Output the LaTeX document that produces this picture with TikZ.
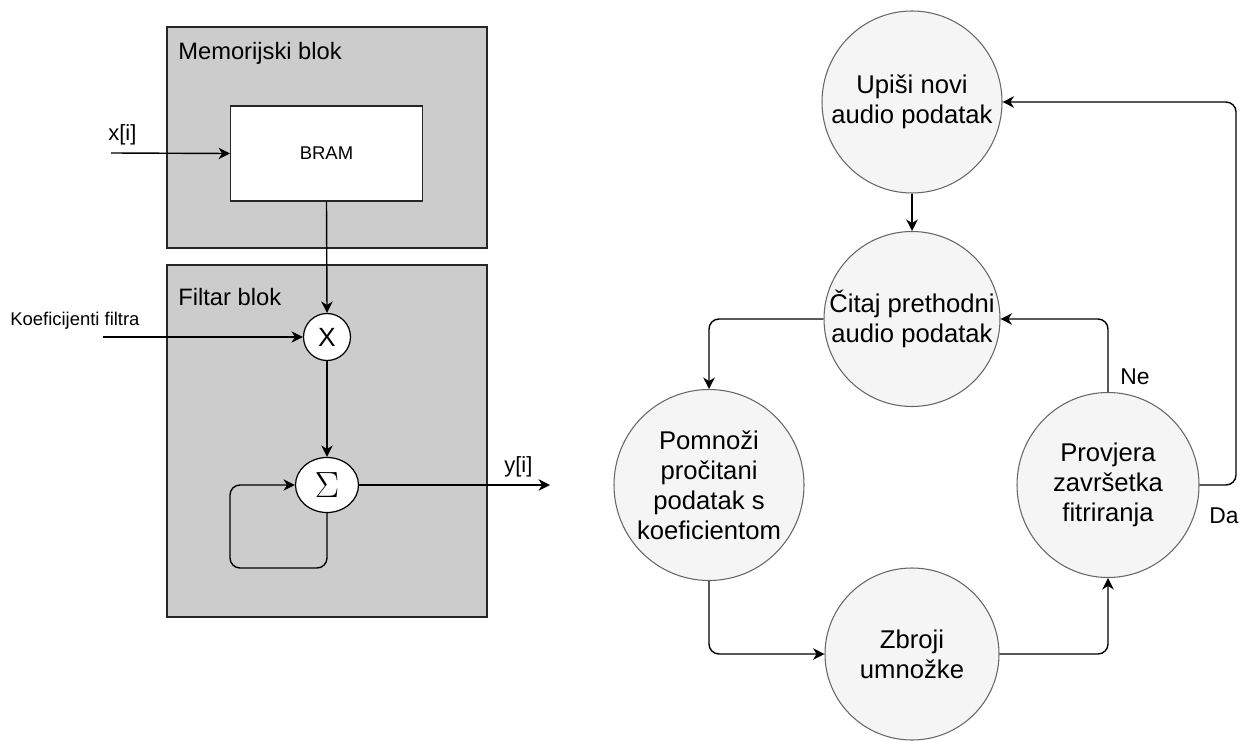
\documentclass[tikz,border=0pt]{standalone}
\usepackage{fontspec}
\setmainfont{Liberation Sans}
\usetikzlibrary{shapes.geometric,arrows.meta}
\definecolor{blokgray}{HTML}{CCCCCC}
\definecolor{stanjefill}{HTML}{F5F5F5}
\definecolor{stanjedraw}{HTML}{666666}
\tikzstyle{blok} = [draw=black!85,fill=blokgray,line width=0.6pt,rectangle,inner sep=0]
\tikzstyle{spremnik} = [draw=black!85,fill=white,line width=0.6pt,rectangle,inner sep=0,font=\fontsize{10.5}{12}\selectfont]
\tikzstyle{op} = [draw,fill=white,line width=0.7pt,ellipse,inner sep=0]
\tikzstyle{stanje} = [draw=stanjedraw,fill=stanjefill,line width=0.6pt,ellipse,inner sep=0]
\tikzstyle{tekst} = [inner sep=0,align=center,font=\fontsize{14.6}{17}\selectfont]
\tikzstyle{veza} = [-{Stealth[length=6.5pt,width=6.5pt,inset=2pt]},line width=0.8pt,rounded corners=0.2cm]
\tikzstyle{oznaka} = [inner sep=0,anchor=base west]
\def \px {0.02cm}
\def \naslov {\fontsize{13.5}{16}\selectfont}

\begin{document}
\begin{tikzpicture}[x=\px,y=-\px]
      \useasboundingbox (0,0) rectangle (1240,740);
      % blok dijagram
      \node[blok,minimum width=320*\px,minimum height=221*\px] (mem) at (327,137.5) {};
      \node[blok,minimum width=320*\px,minimum height=352*\px] (filt) at (327,441) {};
      \node[oznaka,font=\naslov] (memlab) at (178,60) {Memorijski blok};
      \node[oznaka,font=\naslov] (filtlab) at (178,305) {Filtar blok};
      \node[spremnik,minimum width=192*\px,minimum height=95*\px] (bram) at (326.5,153.5) {BRAM};
      \node[op,minimum width=47*\px,minimum height=47*\px,font=\fontsize{15}{18}\selectfont] (mno) at (327,337) {X};
      \node[op,minimum width=63*\px,minimum height=55*\px,font=\fontsize{20}{24}\selectfont] (sum) at (327,485) {$\Sigma$};
      \coordinate (xin) at (111,153);
      \coordinate (kin) at (103,337);
      \coordinate (yout) at (550,485);
      \coordinate (petlja) at (230,568);
      \node[oznaka,font=\fontsize{12.5}{15}\selectfont] (xlab) at (108,140) {x[i]};
      \node[oznaka,font=\fontsize{10.5}{12}\selectfont] (klab) at (10,325) {Koeficijenti filtra};
      \node[oznaka,font=\fontsize{12.5}{15}\selectfont] (ylab) at (504,472) {y[i]};
      \draw[veza] (xin) -- (bram.west);
      \draw[veza] (bram.south) -- (mno.north);
      \draw[veza] (kin) -- (mno.west);
      \draw[veza] (mno.south) -- (sum.north);
      \draw[veza] (sum.east) -- (yout);
      \draw[veza] (sum.south) |- (petlja) |- (sum.west);
      % dijagram stanja
      \node[stanje,minimum width=180*\px,minimum height=182*\px,label={[tekst]center:Upiši novi\\audio podatak}] (upis) at (912,102) {};
      \node[stanje,minimum width=176*\px,minimum height=175*\px,label={[tekst]center:Čitaj prethodni\\audio podatak}] (citaj) at (912,319) {};
      \node[stanje,minimum width=190*\px,minimum height=191*\px,label={[tekst]center:Pomnoži\\pročitani\\podatak s\\koeficientom}] (pomn) at (709,485) {};
      \node[stanje,minimum width=174*\px,minimum height=172*\px,label={[tekst]center:Zbroji\\umnožke}] (zbroj) at (912,654) {};
      \node[stanje,minimum width=182*\px,minimum height=185*\px,label={[tekst]center:Provjera\\završetka\\fitriranja}] (prov) at (1108,485) {};
      \coordinate (desno) at (1236,102);
      \node[oznaka,font=\fontsize{13}{15}\selectfont] (ne) at (1120,384) {Ne};
      \node[oznaka,font=\fontsize{13}{15}\selectfont] (da) at (1209,523) {Da};
      \draw[veza] (upis.south) -- (citaj.north);
      \draw[veza] (citaj.west) -| (pomn.north);
      \draw[veza] (pomn.south) |- (zbroj.west);
      \draw[veza] (zbroj.east) -| (prov.south);
      \draw[veza] (prov.north) |- (citaj.east);
      \draw[veza] (prov.east) -| (desno) -- (upis.east);
    \end{tikzpicture}
\end{document}
